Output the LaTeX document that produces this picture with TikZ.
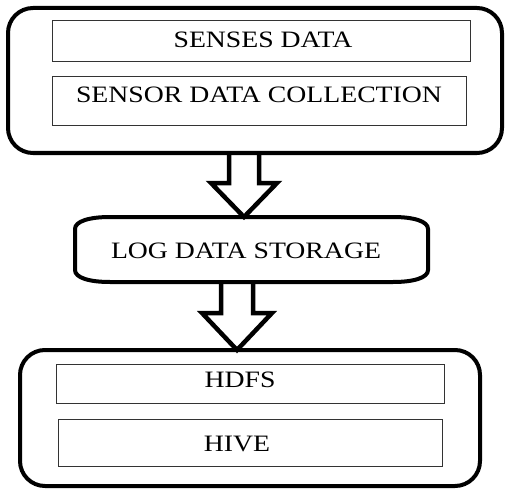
\documentclass[tikz,border=0pt]{standalone}
\usepackage{fontspec}
\setmainfont{Liberation Serif}[FakeStretch=1.18]
\usetikzlibrary{calc}
\begin{document}
\begin{tikzpicture}[x=1pt,y=-1pt,
  outerbox/.style={draw, line width=4pt, rounded corners=25pt, outer sep=0pt, inner sep=0pt},
  innerbox/.style={draw=black!80, line width=1.5pt, outer sep=0pt, inner sep=0pt},
  holder/.style={draw=none, outer sep=0pt, inner sep=0pt},
  lbl/.style={font=\fontsize{23.5}{28}\selectfont, inner sep=0pt},
  blk/.style={draw, line width=4.5pt, line join=miter}]
\useasboundingbox (0,0) rectangle (505,489);

% top group
\node[outerbox, minimum width=494pt, minimum height=145pt] (top) at (255,80.5) {};
\node[innerbox, minimum width=418pt, minimum height=41pt] (senses) at (261.5,41) {};
\node[innerbox, minimum width=414pt, minimum height=49pt] (collect) at (259.5,101) {};
\node[lbl] (tsenses) at (263,39.5) {SENSES DATA};
\node[lbl] (tcollect) at (259,94.5) {SENSOR DATA COLLECTION};

% log data storage
\node[holder, minimum width=353pt, minimum height=65pt] (log) at (251.5,249.5) {};
\draw[line width=4pt]
  ($(log.north west)+(35,0)$) -- ($(log.north east)+(-35,0)$)
  .. controls ($(log.north east)+(-15,0)$) and ($(log.north east)+(0,4)$) .. ($(log.north east)+(0,12)$)
  -- ($(log.south east)+(0,-12)$)
  .. controls ($(log.south east)+(0,-4)$) and ($(log.south east)+(-15,0)$) .. ($(log.south east)+(-35,0)$)
  -- ($(log.south west)+(35,0)$)
  .. controls ($(log.south west)+(15,0)$) and ($(log.south west)+(0,-4)$) .. ($(log.south west)+(0,-12)$)
  -- ($(log.north west)+(0,12)$)
  .. controls ($(log.north west)+(0,4)$) and ($(log.north west)+(15,0)$) .. cycle;
\node[lbl] (tlog) at (246,250.5) {LOG DATA STORAGE};

% bottom group
\node[outerbox, minimum width=460pt, minimum height=136pt] (bottom) at (250,418) {};
\node[innerbox, minimum width=388pt, minimum height=39pt] (hdfs) at (250.5,384) {};
\node[innerbox, minimum width=384pt, minimum height=47pt] (hive) at (250.5,443) {};
\node[lbl] (thdfs) at (240,380) {HDFS};
\node[lbl] (thive) at (237,443.5) {HIVE};

% block arrows
\coordinate (a1) at (244,0);
\draw[blk] ($(a1|-top.south)+(-15,0)$) -- ($(a1|-top.south)+(-15,30)$)
  -- ($(a1|-top.south)+(-33,30)$) -- (a1|-log.north)
  -- ($(a1|-top.south)+(33,30)$) -- ($(a1|-top.south)+(15,30)$)
  -- ($(a1|-top.south)+(15,0)$);
\coordinate (a2) at (237,0);
\draw[blk] ($(a2|-log.south)+(-16,0)$) -- ($(a2|-log.south)+(-16,31)$)
  -- ($(a2|-log.south)+(-35,31)$) -- (a2|-bottom.north)
  -- ($(a2|-log.south)+(35,31)$) -- ($(a2|-log.south)+(16,31)$)
  -- ($(a2|-log.south)+(16,0)$);
\end{tikzpicture}
\end{document}
